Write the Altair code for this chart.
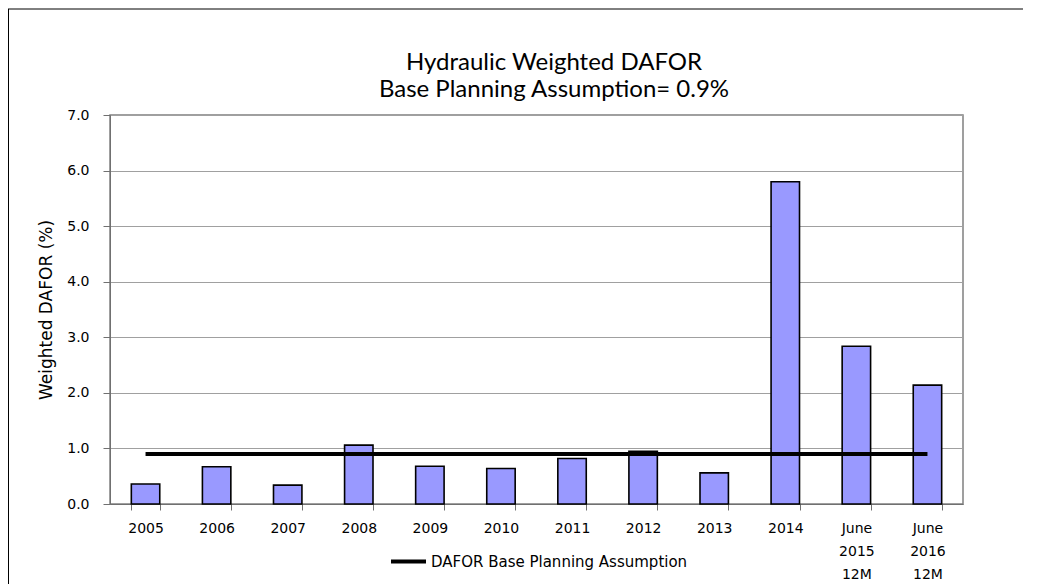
import altair as alt
import pandas as pd

categories = ["2005", "2006", "2007", "2008", "2009", "2010", "2011", "2012",
              "2013", "2014", "June|2015|12M", "June|2016|12M"]
dafor = [0.36, 0.67, 0.34, 1.06, 0.68, 0.64, 0.82, 0.95, 0.56, 5.80, 2.84, 2.14]
planning = [0.9, 0.9, 0.9, 0.9, 0.9, 0.9, 0.9, 0.9, 0.9, 0.9, 0.9, 0.9]
legend_label = "DAFOR Base Planning Assumption"
y_ticks = [0, 1, 2, 3, 4, 5, 6, 7]
title_lines = ["Hydraulic Weighted DAFOR", "Base Planning Assumption= 0.9%"]
y_title = "Weighted  DAFOR (%)"

W, H = 853, 389
FONT = "DejaVu Sans"
TFONT = "Lato"

df = pd.DataFrame({"cat": categories, "dafor": dafor, "plan": planning,
                   "series": [legend_label] * len(categories)})
one = pd.DataFrame({"k": [0]})

xscale = alt.Scale(domain=categories, paddingInner=0.6, paddingOuter=0.3)
xaxis = alt.Axis(title=None, labelExpr="split(datum.label, '|')", labelAngle=0,
                 labelFont=FONT, labelFontSize=14, labelColor="black",
                 labelLineHeight=23, labelBaseline="top", tickBand="extent",
                 tickSize=6, tickColor="#707070", domainColor="#707070",
                 labelPadding=11, grid=False)
yscale = alt.Scale(domain=[0, 7], nice=False)
yaxis = alt.Axis(title=y_title, values=y_ticks, format=".1f", labelFont=FONT,
                 labelFontSize=14, labelColor="black", tickSize=7,
                 tickColor="#707070", domainColor="#707070", labelPadding=14,
                 grid=True, gridColor="#a0a0a0", titleFont=FONT,
                 titleFontSize=17, titleFontWeight="normal", titleColor="black",
                 titlePadding=11)

x_enc = alt.X("cat:N", scale=xscale, axis=xaxis, sort=categories)

bars = alt.Chart(df).mark_bar(fill="#9999FF", stroke="black", strokeWidth=1.6).encode(
    x=x_enc,
    y=alt.Y("dafor:Q", scale=yscale, axis=yaxis),
)

line = alt.Chart(df).mark_line(strokeWidth=4).encode(
    x=x_enc,
    y=alt.Y("plan:Q", scale=yscale),
    color=alt.Color("series:N", scale=alt.Scale(range=["black"]),
                    legend=alt.Legend(title=None, orient="none", legendX=279,
                                      legendY=427, symbolType="stroke",
                                      symbolStrokeWidth=4, symbolSize=1225,
                                      symbolStrokeColor="black",
                                      labelFont=FONT, labelFontSize=15,
                                      labelColor="black", labelOffset=3,
                                      labelLimit=400, padding=0)),
)

title1 = alt.Chart(one).mark_text(font=TFONT, fontSize=24, fontWeight="normal",
                                  color="black", align="center",
                                  baseline="alphabetic").encode(
    x=alt.value(444), y=alt.value(-45), text=alt.value(title_lines[0]))
title2 = alt.Chart(one).mark_text(font=TFONT, fontSize=24, fontWeight="normal",
                                  color="black", align="center",
                                  baseline="alphabetic").encode(
    x=alt.value(444), y=alt.value(-18), text=alt.value(title_lines[1]))

frame_top = alt.Chart(one).mark_rule(color="black", strokeWidth=1).encode(
    x=alt.value(-102), x2=alt.value(W + 60), y=alt.value(-106))
frame_left = alt.Chart(one).mark_rule(color="black", strokeWidth=1).encode(
    x=alt.value(-101.5), y=alt.value(-106), y2=alt.value(H + 80))

chart = alt.layer(bars, line, title1, title2, frame_top, frame_left).properties(
    width=W, height=H,
    autosize=alt.AutoSizeParams(type="none"),
    padding={"left": 102, "top": 107, "right": 60, "bottom": 80},
).configure_view(stroke="#808080", strokeWidth=1.5)

chart.save("out.html", embed_options={"renderer": "svg", "actions": False})
